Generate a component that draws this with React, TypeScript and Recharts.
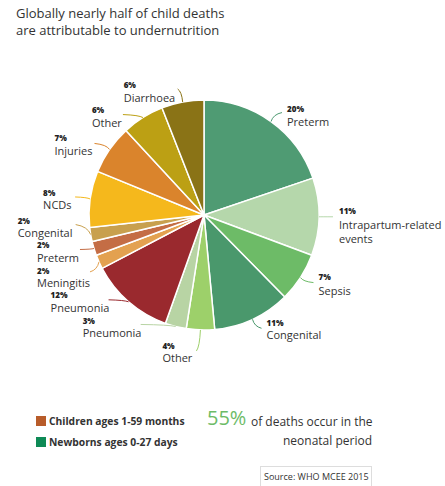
import { PieChart, Pie, Cell } from 'recharts';

// causes of child deaths, clockwise from 12 o'clock
const causes = [
  'Preterm', 'Intrapartum-related events', 'Sepsis', 'Congenital', 'Other', 'Pneumonia',
  'Pneumonia', 'Meningitis', 'Preterm', 'Congenital', 'NCDs', 'Injuries', 'Other', 'Diarrhoea',
];
const shares = [20, 11, 7, 11, 4, 3, 12, 2, 2, 2, 8, 7, 6, 6];

const sliceColors = [
  '#4f9b73', '#b5d7ab', '#6dbb67', '#4a986c', '#9dd06a', '#b8d4a4',
  '#9a292e', '#e3a150', '#c46d45', '#c8a04e', '#f5b81c', '#da842c', '#bca014', '#8a7316',
];

// label layout relative to the slice edge point: line end (ex, ey), text x, pct baseline, name baseline
const labelLayout = [
  { ex: 11, ey: -9, tx: 16, py: -10, ny: 4 },
  { ex: 14, ey: 0, tx: 20, py: -3, ny: 12 },
  { ex: 13, ey: 5, tx: 18, py: 2, ny: 17 },
  { ex: 9, ey: 9, tx: 14, py: 7, ny: 20 },
  { ex: -4, ey: 21, tx: -38, py: 19, ny: 32 },
  { ex: -35, ey: -2, tx: -93, py: -2, ny: 11 },
  { ex: -20, ey: -2, tx: -78, py: -4, ny: 10 },
  { ex: -9, ey: 10, tx: -62, py: 12, ny: 25 },
  { ex: -14, ey: 1, tx: -57, py: 0, ny: 14 },
  { ex: -15, ey: -10, tx: -73, py: -11, ny: 2 },
  { ex: -15, ey: -2, tx: -47, py: -3, ny: 10 },
  { ex: -15, ey: -6, tx: -55, py: -8, ny: 6 },
  { ex: -20, ey: -3, tx: -51, py: -5, ny: 9 },
  { ex: -5, ey: -13, tx: -59, py: -14, ny: 0 },
];

const data = causes.map((name, i) => ({ name, value: shares[i] }));

const FONT = '"Open Sans", sans-serif';
const RAD = Math.PI / 180;

const SliceLabel = (props: any) => {
  const { cx, cy, midAngle, outerRadius, index } = props;
  const sx = cx + outerRadius * Math.cos(-midAngle * RAD);
  const sy = cy + outerRadius * Math.sin(-midAngle * RAD);
  const l = labelLayout[index];
  const ex = sx + l.ex;
  const ey = sy + l.ey;
  // bend the leader line a little
  const qx = sx + l.ex * 0.2;
  const qy = sy + l.ey * 0.8;
  const name = causes[index];
  const lines = name === 'Intrapartum-related events' ? ['Intrapartum-related', 'events'] : [name];
  return (
    <g>
      <path d={`M${sx},${sy} Q${qx},${qy} ${ex},${ey}`} fill="none" stroke={sliceColors[index]} strokeWidth={1} />
      <text x={sx + l.tx} y={sy + l.py} fontFamily={FONT} fontSize={8} fontWeight={800} fill="#222">
        {shares[index]}%
      </text>
      {lines.map((ln, k) => (
        <text key={k} x={sx + l.tx} y={sy + l.ny + k * 14} fontFamily={FONT} fontSize={11} fill="#333">
          {ln}
        </text>
      ))}
    </g>
  );
};

export default function App() {
  return (
    <div style={{ position: 'absolute', left: 0, top: 0, width: 445, height: 486, background: '#fff', fontFamily: FONT, overflow: 'hidden' }}>
      <div style={{ position: 'absolute', left: 16, top: 5, fontSize: 13, lineHeight: '17px', color: '#333' }}>
        Globally nearly half of child deaths<br />are attributable to undernutrition
      </div>

      <PieChart width={445} height={486} margin={{ top: 0, right: 0, bottom: 0, left: 0 }} style={{ position: 'absolute', left: 0, top: 0 }}>
        <Pie
          data={data}
          dataKey="value"
          cx={204}
          cy={215}
          outerRadius={115}
          startAngle={90}
          endAngle={-270}
          stroke="#fff"
          strokeWidth={1.5}
          label={SliceLabel}
          labelLine={false}
          isAnimationActive={false}
        >
          {data.map((d, i) => (
            <Cell key={i} fill={sliceColors[i]} />
          ))}
        </Pie>
      </PieChart>

      <div style={{ position: 'absolute', left: 36, top: 416, width: 10, height: 10, background: '#b85c2a' }} />
      <div style={{ position: 'absolute', left: 49, top: 414, fontSize: 10.3, fontWeight: 700, color: '#333' }}>Children ages 1-59 months</div>
      <div style={{ position: 'absolute', left: 36, top: 437, width: 10, height: 10, background: '#0e8a56' }} />
      <div style={{ position: 'absolute', left: 49, top: 435, fontSize: 10.3, fontWeight: 700, color: '#333' }}>Newborns ages 0-27 days</div>

      <div style={{ position: 'absolute', left: 207, top: 405, fontSize: 20, color: '#6dbb67', lineHeight: '26px' }}>55%</div>
      <div style={{ position: 'absolute', left: 251, top: 413, fontSize: 12, color: '#333' }}>of deaths occur in the</div>
      <div style={{ position: 'absolute', right: 73, top: 432, fontSize: 12, color: '#333' }}>neonatal period</div>

      <div style={{ position: 'absolute', left: 260, top: 466, width: 112, height: 24, border: '1px solid #ddd', boxSizing: 'border-box' }} />
      <div style={{ position: 'absolute', left: 264, top: 470, fontSize: 9, color: '#333' }}>Source: WHO MCEE 2015</div>
    </div>
  );
}
